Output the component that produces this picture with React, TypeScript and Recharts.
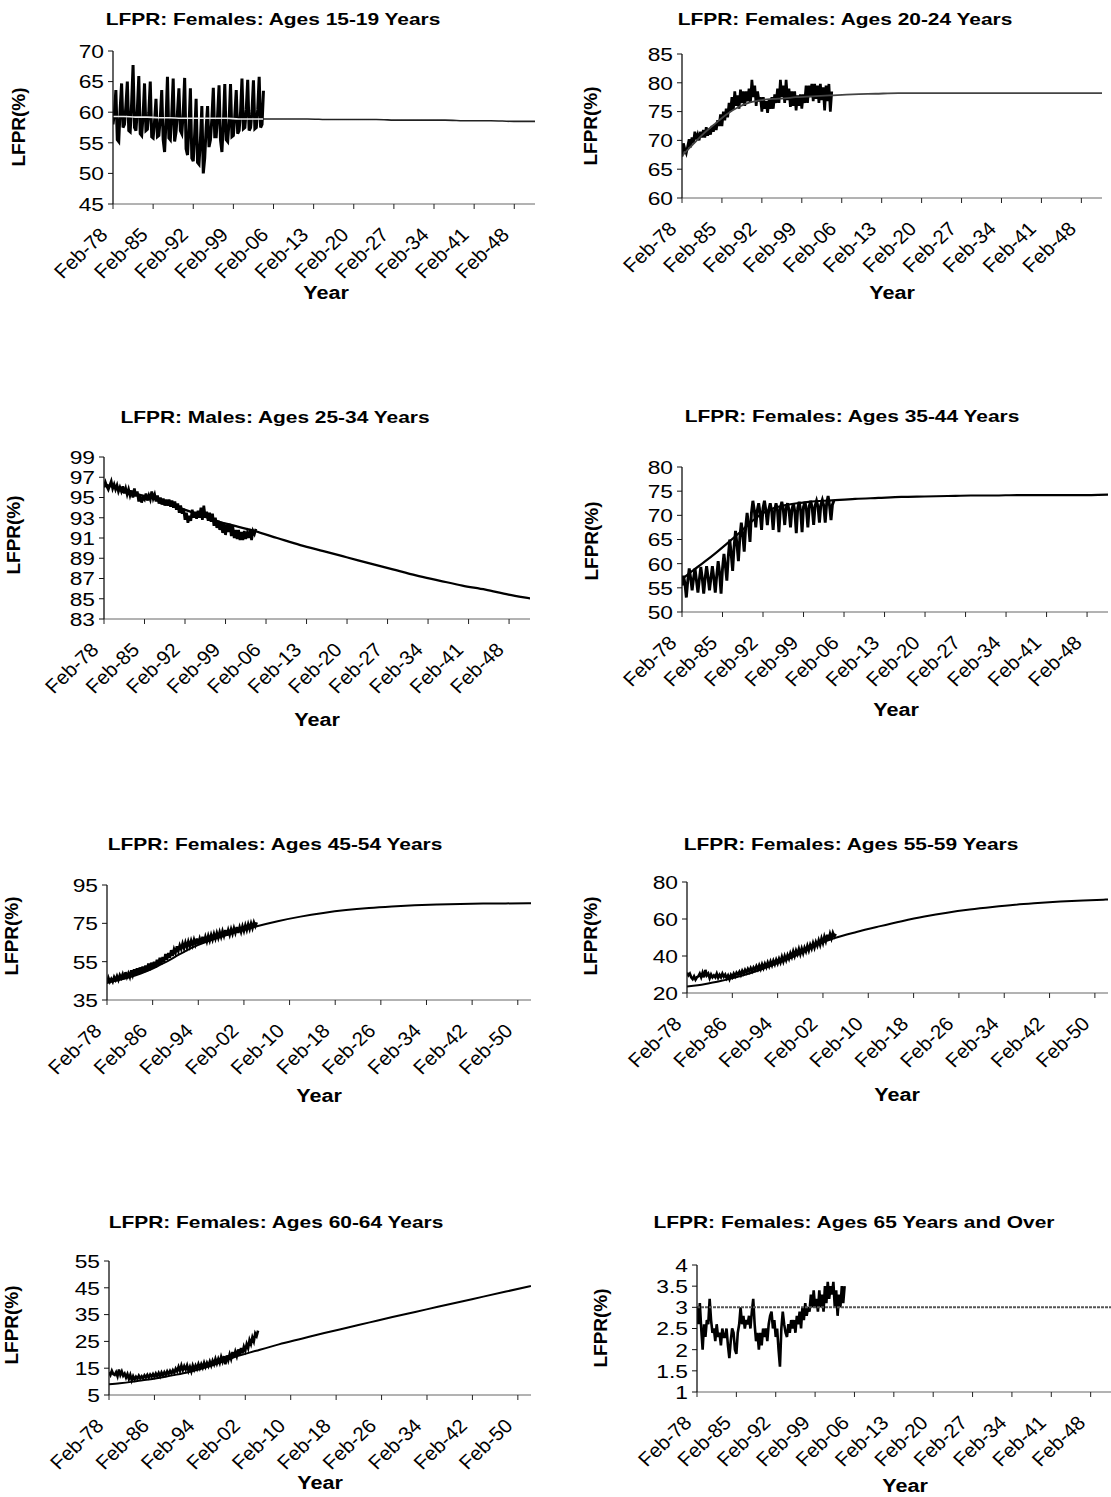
import React from 'react';
import { LineChart, Line, XAxis, YAxis } from 'recharts';

const FONT = '"Liberation Sans", Arial, Helvetica, sans-serif';
const SX = 1.2;
const SX_TITLE = 1.23;

// x-axis tick labels
const TICK_YEARS_7 = [1978, 1985, 1992, 1999, 2006, 2013, 2020, 2027, 2034, 2041, 2048];
const TICK_LABELS_7 = ['Feb-78', 'Feb-85', 'Feb-92', 'Feb-99', 'Feb-06', 'Feb-13', 'Feb-20', 'Feb-27', 'Feb-34', 'Feb-41', 'Feb-48'];
const TICK_YEARS_8 = [1978, 1986, 1994, 2002, 2010, 2018, 2026, 2034, 2042, 2050];
const TICK_LABELS_8 = ['Feb-78', 'Feb-86', 'Feb-94', 'Feb-02', 'Feb-10', 'Feb-18', 'Feb-26', 'Feb-34', 'Feb-42', 'Feb-50'];

// actual series: quarterly, starting Feb-1978
const ACT_START = 1978 + 1 / 12;
const ACT_STEP = 0.25;

// fitted / projected series sample years
const TREND_YEARS = [1978.0833, 1980, 1982, 1984, 1986, 1988, 1990, 1992, 1994, 1996, 1998, 2000, 2004, 2008, 2012, 2016, 2020, 2024, 2028, 2032, 2036, 2040, 2044, 2048, 2052, 2056];

// ---------- Females 15-19
const F1519 = [
  58, 60, 63.6, 55.5, 55.2, 60.5, 64.7, 57.5, 58, 61, 65, 57, 56.8, 61.5, 67.7, 57.5,
  57, 60.5, 65.9, 56.5, 56.2, 59.5, 64.7, 57, 57.2, 60, 65, 56, 55.8, 58.5, 62.2, 56,
  56.2, 59, 63.6, 55.5, 53.5, 58.5, 65.8, 55.8, 55.5, 59.5, 65.5, 55.2, 56.8, 60, 63.9, 57,
  56.5, 59.8, 65.6, 54, 53, 57.5, 63.9, 52.5, 52, 56.5, 62.2, 51.8, 51.5, 55.5, 61, 50,
  52.5, 57.5, 61, 54.3, 55.5, 59, 64, 56, 56, 59.5, 64.4, 55.5, 53.5, 58, 64.6, 55.5,
  55.2, 58.5, 64.6, 56, 56.2, 59.5, 63.6, 56.5, 57, 60, 65.5, 57.3, 57.5, 60.5, 65.3, 57,
  57.5, 60.2, 65.2, 57.3, 57.5, 60.5, 65.8, 57.5, 58, 63.5,
];
const T1519 = [59.3, 59.3, 59.2, 59.2, 59.1, 59.1, 59.0, 59.0, 59.0, 59.0, 59.0, 58.9, 58.9, 58.9, 58.9, 58.8, 58.8, 58.8, 58.7, 58.7, 58.7, 58.6, 58.6, 58.5, 58.5, 58.5];
const Y1519 = [45, 50, 55, 60, 65, 70];

// ---------- Females 20-24
const F2024 = [
  67.2, 69.5, 68.5, 67.8, 69, 70.2, 68.8, 70.5, 69.5, 71.5, 70.2, 71, 70, 71.5, 70.5, 71.8,
  70.5, 72.3, 70.8, 72, 71, 72.5, 71.5, 72.8, 71.8, 73.5, 72.5, 74.5, 72.5, 75, 73.5, 75.5,
  74, 76.5, 75, 77.5, 75.3, 78.5, 76, 77.8, 75.5, 78.8, 76.5, 78.5, 76, 78.5, 76.8, 79,
  76.5, 80.5, 77.5, 79.5, 76, 78.5, 76.8, 77.5, 75, 77.5, 75.5, 76.8, 74.8, 77, 75.5, 77.5,
  75.5, 78, 76.5, 79, 76.5, 80.5, 77.5, 79.5, 76.5, 80.5, 77, 79, 75.8, 78.5, 76, 78.5,
  75.2, 77.8, 76, 78, 75.5, 78, 76.5, 79.5, 76.5, 79.5, 77.5, 79.8, 76.8, 79.8, 77.2, 79.5,
  76.5, 79.8, 77, 79.2, 75.2, 79.5, 76.8, 79.8, 75, 78.5,
];
const T2024 = [67.3, 69.3, 71.3, 73.0, 74.6, 75.8, 76.6, 77.0, 77.2, 77.3, 77.5, 77.6, 77.8, 78.0, 78.1, 78.2, 78.2, 78.2, 78.2, 78.2, 78.2, 78.2, 78.2, 78.2, 78.2, 78.2];
const Y2024 = [60, 65, 70, 75, 80, 85];

// ---------- Males 25-34
const M2534 = [
  96.0, 96.5, 96.1, 95.8, 96.2, 96.6, 95.9, 96.3, 95.8, 96.2, 95.6, 96.0, 95.6, 96.1, 95.4, 95.9,
  95.3, 95.8, 95.2, 95.7, 95.0, 95.9, 95.1, 95.6, 94.6, 95.2, 94.5, 95.0, 94.8, 95.4, 94.7, 95.2,
  94.8, 95.6, 94.9, 95.3, 94.6, 95.2, 94.4, 95.0, 94.3, 94.9, 94.2, 94.8, 94.2, 94.8, 94.1, 94.7,
  94.0, 94.6, 93.8, 94.4, 93.5, 94.2, 93.4, 93.9, 92.8, 93.5, 92.5, 93.2, 92.7, 93.8, 93.0, 93.6,
  92.9, 93.7, 93.0, 94.0, 92.8, 94.2, 93.0, 93.6, 92.7, 93.5, 92.6, 93.4, 92.2, 93.0, 92.0, 92.7,
  91.8, 92.6, 91.5, 92.5, 91.3, 92.3, 91.6, 92.4, 91.2, 92.2, 91.0, 91.8, 90.9, 91.8, 90.8, 91.6,
  90.8, 91.7, 90.9, 91.5, 91.0, 91.9, 90.8, 91.7, 91.4, 91.9,
];
const T2534 = [96.3, 96.0, 95.7, 95.3, 95.0, 94.6, 94.2, 93.8, 93.4, 93.0, 92.6, 92.3, 91.7, 91.0, 90.3, 89.7, 89.1, 88.5, 87.9, 87.3, 86.8, 86.3, 85.9, 85.4, 85.0, 84.6];
const Y2534 = [83, 85, 87, 89, 91, 93, 95, 97, 99];

// ---------- Females 35-44
const F3544 = [
  55.5, 57.5, 56, 53, 56.5, 59, 57, 54.5, 57, 59, 56.5, 54, 56.8, 59.3, 57, 53.8,
  57, 59.5, 57.2, 54.5, 57, 59.5, 57, 54, 57.5, 60.5, 58, 53.8, 59, 62, 59.5, 56.5,
  61.5, 65, 62, 58.5, 63.5, 66.8, 64, 60.5, 65.5, 68.5, 66, 62.5, 67.5, 70.5, 68, 64.5,
  70.5, 73, 71, 67.5, 71, 72.5, 70.5, 67, 71.5, 73, 71, 68, 71.2, 72.5, 70.8, 67,
  71, 72.5, 71, 66.5, 71.5, 72.8, 71.2, 68, 71.5, 72.5, 71, 67.5, 71.2, 72.5, 70.8, 66.3,
  71.5, 72.8, 71, 66.5, 71.8, 72.8, 71.2, 67.5, 72, 73, 71.5, 68, 72, 73, 71.8, 68.5,
  72.2, 73.2, 72, 68.5, 72.5, 74, 72, 69, 72.2, 73,
];
const T3544 = [56.8, 58.6, 60.4, 62.3, 64.3, 66.4, 68.6, 70.4, 71.5, 72.1, 72.5, 72.8, 73.1, 73.4, 73.6, 73.8, 73.9, 74.0, 74.1, 74.1, 74.2, 74.2, 74.2, 74.2, 74.3, 74.3];
const Y3544 = [50, 55, 60, 65, 70, 75, 80];

// ---------- Females 45-54
const F4554 = [
  43.5, 46.5, 44.5, 46, 44.5, 47, 45.5, 47.5, 45.5, 48, 46.5, 48.5, 46, 49.5, 47, 49,
  47, 50.5, 48, 51, 48, 51.5, 48.5, 52, 49, 52.5, 49.5, 53, 50, 54, 50.5, 54.5,
  51.5, 55, 52, 56, 53, 57, 53.5, 57.5, 55, 59, 56, 59.5, 57, 61, 58, 61.5,
  59.5, 63, 60.5, 63.5, 61.5, 64.5, 62, 65, 62.5, 65.5, 63, 66, 63.5, 66.5, 64, 67,
  64, 67, 64.5, 68, 65, 68, 65.5, 68.5, 66, 69, 66.5, 69.5, 67, 70, 67.5, 70.5,
  68, 71, 68.5, 71.5, 68.5, 71.5, 69, 72, 69.5, 72.5, 70, 73, 70, 73, 70.5, 73.5,
  71, 74, 71.5, 74.5, 72, 75, 72.5, 75.5, 73.5, 75.5,
];
const T4554 = [44, 45.3, 46.9, 48.8, 51.2, 54.2, 57.5, 60.8, 63.6, 65.9, 67.9, 69.8, 73.2, 76.1, 78.5, 80.4, 81.9, 83.0, 83.8, 84.4, 84.8, 85.1, 85.3, 85.4, 85.5, 85.6];
const Y4554 = [35, 55, 75, 95];

// ---------- Females 55-59
const F5559 = [
  31, 29.5, 30.5, 28.5, 27.5, 29, 27.2, 28.5, 29, 30.5, 28.5, 31, 28.5, 32.5, 29.5, 30.5,
  28, 30, 28.5, 29.5, 28.5, 30.5, 28.2, 29.8, 28.5, 30.5, 28.8, 30, 28, 29.5, 27.5, 29.8,
  28.5, 30.5, 29, 31, 30, 31.5, 29.8, 32, 30.5, 32.5, 31, 33, 31.5, 33.5, 31.8, 33.8,
  32.5, 34.5, 32.8, 35, 33, 35.5, 33.5, 35.8, 34, 36.5, 34.5, 37, 35, 37.5, 35.5, 38,
  36, 38.5, 36.5, 39.5, 37, 40, 37.8, 40.5, 38.5, 41.5, 39.5, 42.5, 40, 43, 41, 43.8,
  41, 44, 41.5, 44.5, 42.5, 45.5, 43, 46, 44, 47, 44.5, 47.5, 45.5, 48.5, 46, 49.5,
  47, 50.5, 48, 51.5, 48.5, 52, 49.5, 52.5, 50.5, 52,
];
const T5559 = [23.5, 24.2, 25.3, 26.5, 27.9, 29.6, 31.5, 33.7, 36.0, 38.5, 41.2, 44.5, 49.5, 53.0, 56.0, 58.8, 61.3, 63.4, 65.1, 66.5, 67.7, 68.6, 69.4, 70.0, 70.5, 71.0];
const Y5559 = [20, 40, 60, 80];

// ---------- Females 60-64
const F6064 = [
  13.5, 12.5, 14, 12.8, 12.5, 13.5, 12, 14.5, 12.5, 13.8, 12.2, 13, 11.5, 12.8, 11, 12.5,
  10.5, 12, 10.8, 11.8, 11, 12.2, 11.2, 12, 11.2, 12.3, 11.5, 12.5, 11.5, 12.6, 11.8, 12.8,
  11.8, 13, 12, 13.2, 12, 13.4, 12.3, 13.5, 12.5, 13.8, 12.8, 14, 13, 14.2, 13.2, 14.8,
  13.8, 15.5, 14, 16, 14.3, 15.8, 14.5, 16, 14, 15.5, 13.8, 16, 14.5, 16, 14.8, 16.5,
  15, 16.5, 15.2, 17, 15.5, 17, 15.8, 17.5, 16, 17.8, 16.5, 18.5, 16.8, 18.5, 17, 19.2,
  17.5, 19.5, 16.5, 19.8, 18, 20.2, 18.5, 21, 19, 21.2, 19.5, 22, 20, 22.5, 20.5, 23,
  21.5, 24, 22.5, 25.5, 24, 26.5, 25, 28, 27, 29,
];
const T6064 = [9.0, 9.4, 9.9, 10.5, 11.1, 11.8, 12.6, 13.5, 14.6, 15.9, 17.4, 19.0, 21.5, 23.9, 26.0, 28.1, 30.1, 32.1, 34.1, 36.0, 37.9, 39.8, 41.7, 43.6, 45.5, 47.4];
const Y6064 = [5, 15, 25, 35, 45, 55];

// ---------- Females 65+
const F65 = [
  3.0, 2.6, 3.1, 2.5, 2.0, 2.6, 2.3, 2.7, 2.6, 3.2, 2.7, 2.4, 2.5, 2.2, 2.6, 2.3,
  2.4, 2.1, 2.5, 2.3, 2.3, 2.5, 2.1, 1.8, 2.2, 2.5, 2.4, 2.0, 1.9, 2.4, 2.6, 3.0,
  2.6, 2.8, 2.5, 2.7, 2.6, 2.8, 2.5, 2.9, 3.2, 2.6, 2.2, 2.4, 2.0, 2.4, 2.1, 2.5,
  2.3, 2.5, 2.2, 2.6, 2.8, 2.9, 2.5, 2.7, 2.3, 2.5, 2.0, 1.6, 2.5, 2.9, 2.6, 2.4,
  2.3, 2.6, 2.4, 2.7, 2.5, 2.7, 2.4, 2.8, 2.6, 2.9, 2.5, 3.0, 2.7, 3.1, 2.8, 3.0,
  2.9, 3.3, 3.0, 3.4, 3.0, 3.2, 2.9, 3.4, 3.0, 3.3, 2.9, 3.5, 3.1, 3.6, 3.2, 3.5,
  3.3, 3.6, 3.0, 3.4, 2.8, 3.3, 3.0, 3.5, 3.1, 3.5,
];
const T65 = [3.0, 3.0, 3.0, 3.0, 3.0, 3.0, 3.0, 3.0, 3.0, 3.0, 3.0, 3.0, 3.0, 3.0, 3.0, 3.0, 3.0, 3.0, 3.0, 3.0, 3.0, 3.0, 3.0, 3.0, 3.0, 3.0];
const Y65 = [1, 1.5, 2, 2.5, 3, 3.5, 4];

// ---------- layout (page pixels)
type Panel = {
  title: string; actual: number[]; trend: number[]; yTicks: number[]; seven: boolean;
  left: number; yAxisX: number; top: number; bottom: number; right: number; xEnd: number;
  titleC: [number, number]; yearC: [number, number]; labelC: [number, number];
  trendColor: string; trendLight?: boolean; trendDash?: string; actW: number; trendW: number;
};

const PANELS: Panel[] = [
  { title: 'LFPR: Females: Ages 15-19 Years', actual: F1519, trend: T1519, yTicks: Y1519, seven: true,
    left: 0, yAxisX: 113, top: 51, bottom: 204, right: 535, xEnd: 2051.7, titleC: [273, 19], yearC: [326, 293], labelC: [18, 127],
    trendColor: '#222', trendLight: true, actW: 3, trendW: 1.6 },
  { title: 'LFPR: Females: Ages 20-24 Years', actual: F2024, trend: T2024, yTicks: Y2024, seven: true,
    left: 560, yAxisX: 682, top: 54, bottom: 198, right: 1102, xEnd: 2051.7, titleC: [845, 19], yearC: [892, 293], labelC: [590, 126],
    trendColor: '#444', actW: 2.7, trendW: 1.8 },
  { title: 'LFPR: Males: Ages 25-34 Years', actual: M2534, trend: T2534, yTicks: Y2534, seven: true,
    left: 0, yAxisX: 104, top: 457, bottom: 619, right: 530, xEnd: 2051.7, titleC: [275, 417], yearC: [317, 720], labelC: [13, 535],
    trendColor: '#000', actW: 2.7, trendW: 2.3 },
  { title: 'LFPR: Females: Ages 35-44 Years', actual: F3544, trend: T3544, yTicks: Y3544, seven: true,
    left: 560, yAxisX: 682, top: 467, bottom: 612, right: 1108, xEnd: 2051.7, titleC: [852, 416], yearC: [896, 710], labelC: [591, 541],
    trendColor: '#000', actW: 2.9, trendW: 2.2 },
  { title: 'LFPR: Females: Ages 45-54 Years', actual: F4554, trend: T4554, yTicks: Y4554, seven: false,
    left: 0, yAxisX: 107, top: 885, bottom: 1000, right: 531, xEnd: 2052.4, titleC: [275, 844], yearC: [319, 1096], labelC: [11, 936],
    trendColor: '#000', actW: 2.6, trendW: 2 },
  { title: 'LFPR: Females: Ages 55-59 Years', actual: F5559, trend: T5559, yTicks: Y5559, seven: false,
    left: 560, yAxisX: 687, top: 882, bottom: 993, right: 1108, xEnd: 2052.4, titleC: [851, 844], yearC: [897, 1095], labelC: [590, 936],
    trendColor: '#000', actW: 2.6, trendW: 2 },
  { title: 'LFPR: Females: Ages 60-64 Years', actual: F6064, trend: T6064, yTicks: Y6064, seven: false,
    left: 0, yAxisX: 109, top: 1261, bottom: 1395, right: 531, xEnd: 2052.4, titleC: [276, 1222], yearC: [320, 1483], labelC: [11, 1325],
    trendColor: '#000', actW: 2.6, trendW: 2 },
  { title: 'LFPR: Females: Ages 65 Years and Over', actual: F65, trend: T65, yTicks: Y65, seven: true,
    left: 560, yAxisX: 697, top: 1265, bottom: 1392, right: 1111, xEnd: 2051.7, titleC: [854, 1222], yearC: [905, 1486], labelC: [600, 1328],
    trendColor: '#555', trendDash: '3 1', actW: 2.6, trendW: 2 },
];

const TOP_PAD = 12;
const X_AXIS_H = 95;

const YTick = (props: any) => {
  const { x, y, payload } = props;
  return (
    <text x={0} y={0} dy="0.36em" transform={`translate(${x},${y}) scale(${SX},1)`} textAnchor="end"
      fontSize={19} fontFamily={FONT} fill="#000">{String(payload.value)}</text>
  );
};

const makeXTick = (years: number[], labels: string[]) => (props: any) => {
  const { x, y, payload } = props;
  let idx = 0;
  let best = Infinity;
  years.forEach((yr, i) => { const d = Math.abs(yr + 1 / 12 - payload.value); if (d < best) { best = d; idx = i; } });
  return (
    <g transform={`translate(${x - 4},${y + 27}) scale(1.06,1)`}>
      <text x={0} y={0} transform="rotate(-45)" textAnchor="end" fontSize={19.5} fontFamily={FONT} fill="#000">{labels[idx]}</text>
    </g>
  );
};

const xTick7 = makeXTick(TICK_YEARS_7, TICK_LABELS_7);
const xTick8 = makeXTick(TICK_YEARS_8, TICK_LABELS_8);

function ChartPanel({ p, id }: { p: Panel; id: string }) {
  const T = p.top - TOP_PAD;
  const W = p.right - p.left + 3;
  const H = p.bottom - T + X_AXIS_H;
  const actual = p.actual.map((v, i) => ({ x: ACT_START + i * ACT_STEP, y: v }));
  const trend = p.trend.map((v, i) => ({ x: TREND_YEARS[i], y: v }));
  const years = p.seven ? TICK_YEARS_7 : TICK_YEARS_8;
  const ticks = years.map((y) => y + 1 / 12);
  const yMin = p.yTicks[0];
  const yMax = p.yTicks[p.yTicks.length - 1];
  // share of the fitted line's extent that lies under the observed data
  const actEnd = ACT_START + (p.actual.length - 1) * ACT_STEP;
  const split = (actEnd - TREND_YEARS[0]) / (TREND_YEARS[TREND_YEARS.length - 1] - TREND_YEARS[0]);
  return (
    <div style={{ position: 'absolute', left: p.left, top: T, width: W, height: H }}>
      <LineChart width={W} height={H} margin={{ top: TOP_PAD, right: 3, left: 0, bottom: 0 }}>
        <defs>
          <linearGradient id={id} x1="0" y1="0" x2="1" y2="0">
            <stop offset={0} stopColor="#ececec" />
            <stop offset={split} stopColor="#ececec" />
            <stop offset={split} stopColor={p.trendColor} />
            <stop offset={1} stopColor={p.trendColor} />
          </linearGradient>
        </defs>
        <XAxis type="number" dataKey="x" domain={[ACT_START, p.xEnd]} allowDataOverflow ticks={ticks} interval={0}
          height={X_AXIS_H} tickSize={5} tickMargin={0} tick={p.seven ? xTick7 : xTick8}
          axisLine={{ stroke: '#666', strokeWidth: 1 }} tickLine={{ stroke: '#222', strokeWidth: 1 }} />
        <YAxis type="number" domain={[yMin, yMax]} ticks={p.yTicks} interval={0} allowDataOverflow
          width={p.yAxisX - p.left} tickSize={5} tickMargin={4} tick={YTick}
          axisLine={{ stroke: '#111', strokeWidth: 1.3 }} tickLine={{ stroke: '#111', strokeWidth: 1 }} />
        <Line data={actual} dataKey="y" type="linear" stroke="#000" strokeWidth={p.actW} strokeLinejoin="miter" dot={false} isAnimationActive={false} />
        <Line data={trend} dataKey="y" type="monotone" stroke={p.trendLight ? `url(#${id})` : p.trendColor}
          strokeWidth={p.trendW} strokeDasharray={p.trendDash} dot={false} isAnimationActive={false} />
      </LineChart>
    </div>
  );
}

const textBase: React.CSSProperties = { position: 'absolute', whiteSpace: 'nowrap', lineHeight: 1, fontFamily: FONT, color: '#000' };

export default function App() {
  return (
    <div style={{ position: 'absolute', left: 0, top: 0, width: 1111, height: 1497, overflow: 'hidden', background: '#fff' }}>
      {PANELS.map((p, i) => (
        <React.Fragment key={i}>
          <ChartPanel p={p} id={`trendGrad${i}`} />
          <div style={{ ...textBase, left: p.titleC[0], top: p.titleC[1], fontSize: 17, fontWeight: 'bold', transform: `translate(-50%,-50%) scaleX(${SX_TITLE})` }}>{p.title}</div>
          <div style={{ ...textBase, left: p.yearC[0], top: p.yearC[1], fontSize: 18, fontWeight: 'bold', transform: `translate(-50%,-50%) scaleX(${SX})` }}>Year</div>
          <div style={{ ...textBase, left: p.labelC[0], top: p.labelC[1], fontSize: 19, fontWeight: 'bold', transform: 'translate(-50%,-50%) rotate(-90deg)' }}>LFPR(%)</div>
        </React.Fragment>
      ))}
    </div>
  );
}
